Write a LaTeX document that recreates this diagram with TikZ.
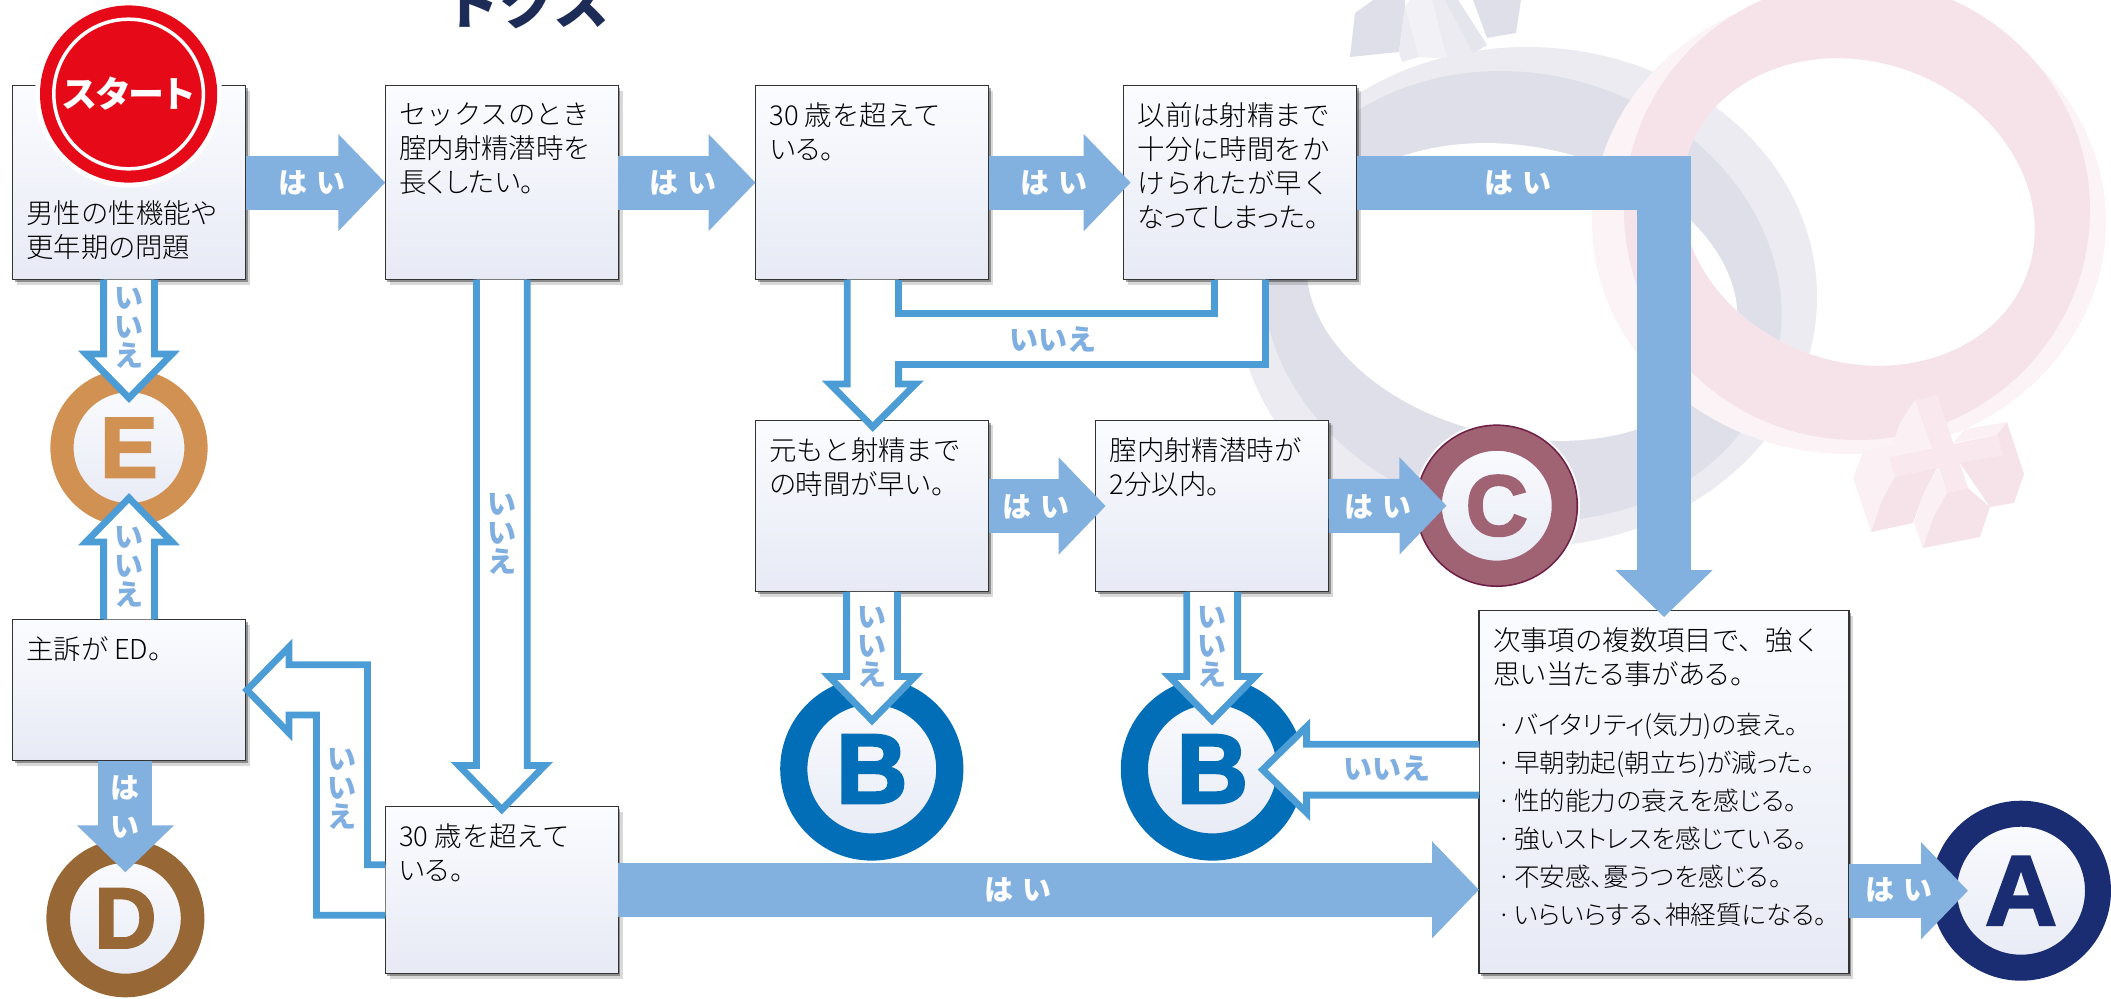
\documentclass[tikz,border=0pt]{standalone}
\usepackage{fontspec}
\usetikzlibrary{calc,arrows.meta,shadows,backgrounds}
\newfontfamily\jp[RawFeature={+palt}]{Noto Sans CJK JP Light}
\newfontfamily\jpwide{Noto Sans CJK JP Light}
\newfontfamily\jpfull{Noto Sans CJK JP}
\newfontfamily\jpbold[RawFeature={+palt}]{Noto Sans CJK JP}
\newfontfamily\letterfont[BoldFeatures={FakeBold=2.5}]{Liberation Sans}
\definecolor{haicolor}{HTML}{82B0DF}
\definecolor{iiecolor}{HTML}{4C9CD6}
\definecolor{iietext}{HTML}{7FAEE0}
\definecolor{boxtop}{HTML}{FBFCFF}
\definecolor{boxbot}{HTML}{E7EAF5}
\definecolor{startred}{HTML}{E60A19}
\definecolor{acolor}{HTML}{1A2D72}
\definecolor{bcolor}{HTML}{036EB8}
\definecolor{ccolor}{HTML}{A06374}
\definecolor{cedge}{HTML}{6E1F45}
\definecolor{dcolor}{HTML}{976835}
\definecolor{ecolor}{HTML}{D09153}
\definecolor{titlecolor}{HTML}{1D2C57}
\definecolor{marsa}{HTML}{EBEBF1}
\definecolor{marsb}{HTML}{DFDFE9}
\definecolor{marsc}{HTML}{F1F1F6}
\definecolor{marsd}{HTML}{E5E5ED}
\definecolor{venusa}{HTML}{FBF3F6}
\definecolor{venusb}{HTML}{F6E3EA}
\definecolor{venusc}{HTML}{F9E9EE}
\definecolor{venusd}{HTML}{FBF1F4}
\newcommand{\boxtext}[3]{\parbox[c][#2][t]{#1}{\vspace*{8.5pt}\raggedright\jp\fontsize{13.7}{17}\selectfont #3}}
\newcommand{\wide}[1]{{\jpwide #1}}
\newcommand{\dotline}[1]{{\fontsize{12.8}{17}\selectfont\makebox[10.5pt][l]{\hspace{2pt}·}#1}}
\newcommand{\iiearrow}[2]{
\coordinate (base) at ($(#2)!22pt!(#1)$);
\draw[iieline,fill=white] ($(#1)!12.7pt!90:(#2)$) -- ($(base)!12.7pt!-90:(#1)$) -- ($(base)!21.5pt!-90:(#1)$) -- (#2) -- ($(base)!21.5pt!90:(#1)$) -- ($(base)!12.7pt!90:(#1)$) -- ($(#1)!12.7pt!-90:(#2)$);
}
\tikzset{
box/.style={draw=black!80,line width=.65pt,top color=boxtop,bottom color=boxbot,inner xsep=7pt,inner ysep=0pt,outer sep=0pt,
  drop shadow={shadow xshift=1pt,shadow yshift=-1.2pt,opacity=.35,fill=black},
  drop shadow={shadow xshift=2.2pt,shadow yshift=-2.6pt,opacity=.15,fill=black}},
badge/.style={circle,draw=#1,text=#1,top color=boxtop,bottom color=boxbot,inner sep=0pt,outer sep=0pt,font=\letterfont\bfseries},
hai/.style={draw=haicolor,line width=27pt,shorten >=#1,-{Triangle[length=23.5pt,width=47.2pt,fill=haicolor]}},
hai/.default=0pt,
iieline/.style={draw=iiecolor,line width=3.4pt,miter limit=10},
hailabel/.style={text=white,font=\jpfull\bfseries\fontsize{14.5}{19.5}\selectfont,align=center,inner sep=0pt},
iielabel/.style={text=iietext,font=\jpfull\bfseries\fontsize{14.5}{14.6}\selectfont,align=center,inner sep=0pt}
}
\begin{document}
\begin{tikzpicture}[x=.5pt,y=-.5pt]
\useasboundingbox (0,0) rectangle (2111,998);
\node[anchor=base west,text=titlecolor,inner sep=0pt,font=\jpfull\bfseries\fontsize{28}{28}\selectfont] (title) at (443,24) {トクス};
\node[box] (1) at (129,182.6) {\boxtext{102.5pt}{97pt}{\vspace*{49pt}\wide{男性の性機能や}\\更年期の問題}};
\node[box] (2) at (501.8,182.6) {\boxtext{102.5pt}{97pt}{\wide{セックスのとき}\\\wide{腟内射精潜時を}\\長くしたい。}};
\node[box] (3) at (872,182.6) {\boxtext{102.5pt}{97pt}{\wide{30 歳を超えて}\\いる。}};
\node[box] (4) at (1240.2,182.6) {\boxtext{102.5pt}{97pt}{\wide{以前は射精まで}\\\wide{十分に時間をか}\\\wide{けられたが早く}\\なってしまった。}};
\node[box] (5) at (872,506) {\boxtext{102.5pt}{85.8pt}{\wide{元もと射精まで}\\の時間が早い。}};
\node[box] (6) at (1212.2,506) {\boxtext{102.5pt}{85.8pt}{\wide{腟内射精潜時が}\\2分以内。}};
\node[box] (7) at (129,690) {\boxtext{102.5pt}{70.7pt}{主訴が ED。}};
\node[box] (8) at (501.8,889.8) {\boxtext{102.5pt}{83.5pt}{\wide{30 歳を超えて}\\いる。}};
\node[box] (9) at (1664,792) {\boxtext{171pt}{181.3pt}{\wide{次事項の複数項目で、強く}\\思い当たる事がある。\\[8pt]\dotline{バイタリティ(気力)の衰え。}\\[2pt]\dotline{早朝勃起(朝立ち)が減った。}\\[2pt]\dotline{性的能力の衰えを感じる。}\\[2pt]\dotline{強いストレスを感じている。}\\[2pt]\dotline{不安感、憂うつを感じる。}\\[2pt]\dotline{いらいらする、神経質になる。}}};
\node[circle,fill=startred,draw=white,line width=1.75pt,minimum size=74.8pt,inner sep=0pt,
  preaction={draw=white,line width=18.7pt},preaction={draw=startred,line width=13.8pt},
  text=white,font=\jpbold\bfseries\fontsize{18}{18}\selectfont] (start) at (128.6,94) {スタート};
\node[badge=acolor,line width=13pt,minimum size=77pt,font=\letterfont\bfseries\fontsize{49.6}{50}\selectfont] (a) at (2021,890.7) {A};
\node[badge=bcolor,line width=13.6pt,minimum size=78pt,font=\letterfont\bfseries\fontsize{49.6}{50}\selectfont] (b1) at (871.8,769) {B};
\node[badge=bcolor,line width=13.6pt,minimum size=78pt,font=\letterfont\bfseries\fontsize{49.6}{50}\selectfont] (b2) at (1212.4,769) {B};
\node[badge=ccolor,line width=12.35pt,minimum size=67.3pt,font=\letterfont\bfseries\fontsize{43}{44}\selectfont,
  preaction={draw=white,line width=16pt},preaction={draw=cedge,line width=14pt}] (c) at (1496.8,505.7) {C};
\node[badge=dcolor,line width=11.8pt,minimum size=67.2pt,font=\letterfont\bfseries\fontsize{43}{44}\selectfont] (d) at (125.4,918.3) {D};
\node[badge=ecolor,line width=11.6pt,minimum size=67pt,font=\letterfont\bfseries\fontsize{43}{44}\selectfont] (e) at (129,447.7) {E};
%hai
\draw[hai] (1.east) -- (2.west);
\draw[hai] (2.east) -- (3.west);
\draw[hai=-3.5pt] (3.east) -- (4.west);
\draw[hai=-5pt] (5.east) -- (6.west);
\draw[hai=-8.5pt] (6.east) -- (c.west);
\draw[hai=-12pt] (9.east |- a.west) -- (a.west);
\draw[hai] (8.east) -- (9.west |- 8.east);
\draw[hai=-3.2pt] (4.east) -| (9.north);
\draw[hai=-10.6pt] (7.south -| d.north) -- (d.north);
%iie
\coordinate (t1) at (129,398);
\coordinate (t2) at (129,498);
\coordinate (t3) at (501.8,809.5);
\coordinate (t4) at (872,720.5);
\coordinate (t5) at (1212.2,720.5);
\coordinate (t6) at (1262.6,769.7);
\coordinate (q6) at (9.west |- t6);
\iiearrow{1.south}{t1}
\iiearrow{7.north}{t2}
\iiearrow{2.south}{t3}
\iiearrow{5.south}{t4}
\iiearrow{6.south}{t5}
\iiearrow{q6}{t6}
%3 4 to 5
\coordinate (p1) at (847.2,384);
\coordinate (p2) at (898.6,384);
\coordinate (p3) at (1265.5,364.5);
\coordinate (p4) at (1214.6,313.6);
\coordinate (tip5) at (872.8,427);
\fill[white] (3.south -| p1) -- (p1) -- (830,384) -- (tip5) -- (915.6,384) -- (p2) -- (p2 |- p3) -- (p3) -- (4.south -| p3) -- (4.south -| p4) -- (p4) -- (p2 |- p4) -- (3.south -| p2) -- cycle;
\draw[iieline] (3.south -| p2) -- (p2 |- p4) -- (p4) -- (4.south -| p4);
\draw[iieline] (4.south -| p3) -- (p3) -- (p2 |- p3) -- (p2) -- (915.6,384) -- (tip5) -- (830,384) -- (p1) -- (3.south -| p1);
%8 to 7
\coordinate (r1) at (367.4,664.7);
\coordinate (r2) at (316.5,715);
\coordinate (r3) at (8.west |- 0,864.7);
\coordinate (r4) at (8.west |- 0,915.3);
\draw[iieline,fill=white] (r3) -- (r3 -| r1) -- (r1) -- (289,664.7) -- (289,647) -- (247,690) -- (289,733) -- (289,715) -- (r2) -- (r2 |- r4) -- (r4);
%labels
\node[hailabel] (h1) at (311.6,183) {は\hspace{4.5pt}い};
\node[hailabel] (h2) at (683,183) {は\hspace{4.5pt}い};
\node[hailabel] (h3) at (1054,183) {は\hspace{4.5pt}い};
\node[hailabel] (h4) at (1518,183) {は\hspace{4.5pt}い};
\node[hailabel] (h5) at (1036,507) {は\hspace{4.5pt}い};
\node[hailabel] (h6) at (1378,507) {は\hspace{4.5pt}い};
\node[hailabel] (h7) at (1018,890) {は\hspace{4.5pt}い};
\node[hailabel] (h8) at (1899,890) {は\hspace{4.5pt}い};
\node[hailabel] (h9) at (125.4,807) {は\\い};
\node[iielabel] (i1) at (129,328) {い\\い\\え};
\node[iielabel] (i2) at (129,567) {い\\い\\え};
\node[iielabel] (i3) at (502,534) {い\\い\\え};
\node[iielabel] (i4) at (341.5,789) {い\\い\\え};
\node[iielabel] (i5) at (872,647) {い\\い\\え};
\node[iielabel] (i6) at (1212.4,647) {い\\い\\え};
\node[iielabel] (i7) at (1052.6,340) {いいえ};
\node[iielabel] (i8) at (1386.6,769) {いいえ};
%mars
\begin{scope}[on background layer]
\fill[marsa] (1527,297) ellipse [x radius=290,y radius=250];
\fill[marsb] (1522,296) ellipse [x radius=262,y radius=222,rotate=-15];
\fill[white] (1522,292) ellipse [x radius=218,y radius=145,rotate=-12];
\fill[marsb] (1355,13) -- (1373,0) -- (1405,0) -- (1405,7) -- (1399,52) -- (1350,57) -- cycle;
\fill[marsb] (1473,0) -- (1521,0) -- (1516,33) -- (1487,38) -- cycle;
\fill[marsa] (1405,7) -- (1410,0) -- (1458,0) -- (1487,45) -- (1473,53) -- (1447,58) -- (1419,57) -- (1402,62) -- (1399,52) -- cycle;
\fill[marsc] (1405,7) -- (1410,0) -- (1432,0) -- (1447,58) -- (1419,57) -- cycle;
\fill[marsd] (1458,0) -- (1487,45) -- (1473,53) -- (1445,0) -- cycle;
%venus
\fill[venusa,even odd rule] (1849,222) ellipse [x radius=257,y radius=232] (1858,212) ellipse [x radius=180,y radius=150,rotate=-20];
\fill[venusb,even odd rule] (1857,210) ellipse [x radius=233,y radius=230] (1858,212) ellipse [x radius=180,y radius=150,rotate=-20];
\fill[venusd] (1915,400) -- (1932,448) -- (1905,442) -- (1893,443) -- (1900,423) -- cycle;
\fill[venusc] (1915,400) -- (1937,395) -- (1953,443) -- (1968,488) -- (1947,493) -- (1932,448) -- cycle;
\fill[venusd] (1853,478) -- (1863,452) -- (1889,457) -- (1895,477) -- (1881,502) -- (1871,532) -- cycle;
\fill[venusd] (1863,452) -- (1905,442) -- (1932,448) -- (1889,457) -- cycle;
\fill[venusd] (1953,443) -- (1965,429) -- (2007,422) -- (1997,435) -- cycle;
\fill[venusc] (1889,457) -- (1997,435) -- (2003,455) -- (1895,477) -- cycle;
\fill[venusb] (1895,477) -- (1937,468) -- (1923,495) -- (1913,523) -- (1871,532) -- (1881,502) -- cycle;
\fill[venusb] (1997,435) -- (2007,422) -- (2024,474) -- (2014,503) -- (1990,507) -- (1960,463) -- (2003,455) -- cycle;
\fill[venusd] (1938,468) -- (1947,493) -- (1933,518) -- (1923,548) -- (1914,523) -- (1923,495) -- cycle;
\fill[venusb] (1947,493) -- (1968,488) -- (1990,507) -- (1980,537) -- (1923,548) -- (1933,518) -- cycle;
\end{scope}
\end{tikzpicture}
\end{document}
